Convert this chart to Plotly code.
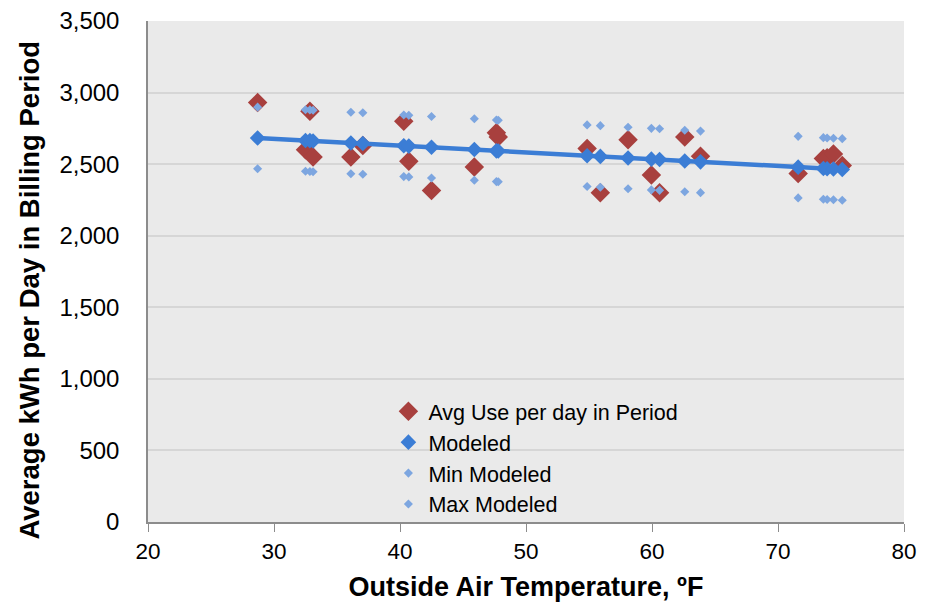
import plotly.graph_objects as go

# Outside air temperature (°F) for each billing period
temp = [28.7, 32.5, 32.85, 33.1, 36.1, 37.05, 40.3, 40.7, 42.5, 45.9, 47.65, 47.8,
        54.85, 55.9, 58.1, 59.95, 60.6, 62.6, 63.85, 71.6, 73.6, 73.9, 74.4, 75.1]

# Average use per day in period (kWh)
avg_use = [2930, 2600, 2870, 2550, 2550, 2630, 2800, 2520, 2315, 2480, 2720, 2690,
           2610, 2300, 2670, 2425, 2300, 2690, 2555, 2435, 2540, 2545, 2570, 2490]

# Modeled (kWh/day)
modeled = [2683, 2665, 2664, 2662, 2648, 2644, 2628, 2626, 2618, 2602, 2593, 2592,
           2559, 2554, 2543, 2535, 2532, 2522, 2516, 2479, 2470, 2468, 2466, 2463]

# Min / Max modeled (kWh/day)
min_modeled = [2468, 2450, 2449, 2447, 2433, 2429, 2413, 2411, 2403, 2387, 2378, 2377,
               2344, 2339, 2328, 2320, 2317, 2307, 2301, 2264, 2255, 2253, 2251, 2248]
max_modeled = [2898, 2880, 2879, 2877, 2863, 2859, 2843, 2841, 2833, 2817, 2808, 2807,
               2774, 2769, 2758, 2750, 2747, 2737, 2731, 2694, 2685, 2683, 2681, 2678]

x_ticks = [20, 30, 40, 50, 60, 70, 80]
y_ticks = [0, 500, 1000, 1500, 2000, 2500, 3000, 3500]

RED = "#A8403E"
BLUE = "#3B7DD5"
LIGHT = "#7DA6E0"

fig = go.Figure()
fig.add_trace(go.Scatter(x=temp, y=avg_use, mode="markers", name="Avg Use per day in Period",
                         legendgroup="a",
                         marker=dict(symbol="diamond", size=15, color=RED)))
fig.add_trace(go.Scatter(x=temp, y=modeled, mode="lines", showlegend=False, hoverinfo="skip",
                         legendgroup="line",
                         line=dict(color=BLUE, width=4.5)))
fig.add_trace(go.Scatter(x=temp, y=modeled, mode="markers", name="Modeled",
                         legendgroup="b",
                         marker=dict(symbol="diamond", size=12, color=BLUE)))
fig.add_trace(go.Scatter(x=temp, y=min_modeled, mode="markers", name="Min Modeled",
                         legendgroup="c",
                         marker=dict(symbol="diamond", size=7, color=LIGHT)))
fig.add_trace(go.Scatter(x=temp, y=max_modeled, mode="markers", name="Max Modeled",
                         legendgroup="d",
                         marker=dict(symbol="diamond", size=7, color=LIGHT)))

fig.update_layout(
    width=909, height=594,
    margin=dict(l=140, r=13, t=13, b=80),
    paper_bgcolor="white",
    plot_bgcolor="#EAEAEA",
    font=dict(family="Liberation Sans, Arial, sans-serif", color="black", size=20),
    legend=dict(x=0.318, y=0.262, xanchor="left", yanchor="top",
                bgcolor="rgba(0,0,0,0)", font=dict(size=21.5),
                traceorder="grouped", tracegroupgap=0,
                itemsizing="trace"),
    showlegend=True,
    annotations=[dict(text="<b>Average kWh per Day in Billing Period</b>",
                      xref="paper", yref="paper", x=-0.158, y=0.463,
                      xanchor="center", yanchor="middle", textangle=-90,
                      showarrow=False, font=dict(size=27.5))],
)
fig.update_xaxes(
    range=[20, 80], tickvals=x_ticks, ticktext=[str(v) for v in x_ticks],
    showgrid=False, zeroline=False, automargin=False, ticklabeloverflow="allow",
    showline=True, linecolor="#8C8C8C", linewidth=1.5,
    ticks="outside", ticklen=8, tickcolor="#8C8C8C",
    tickfont=dict(size=22.5),
    title=dict(text="<b>Outside Air Temperature, ºF</b>", font=dict(size=27),
               standoff=19),
)
fig.update_yaxes(
    range=[0, 3500], tickvals=y_ticks, tickformat=",",
    showgrid=True, gridcolor="#D6D6D6", gridwidth=2, zeroline=False, automargin=False,
    ticklabeloverflow="allow",
    showline=True, linecolor="#8C8C8C", linewidth=1.5,
    ticks="outside", ticklen=22, tickcolor="rgba(0,0,0,0)", tickfont=dict(size=24),
)

fig.write_html("out.html")
